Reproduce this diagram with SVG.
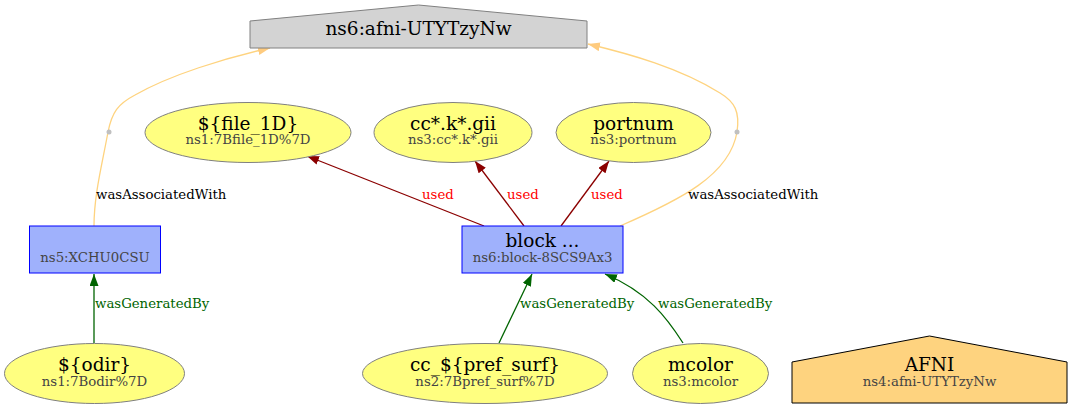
<svg xmlns="http://www.w3.org/2000/svg" width="1072" height="416" viewBox="0 0 1072 416">
<style>
text{font-family:"DejaVu Serif","Liberation Serif",serif;text-anchor:middle}
.t{font-size:18.5px;fill:#000}
.s{font-size:13.3px;fill:#444}
.ent{fill:#ffff80;stroke:#808080;stroke-width:1}
.act{fill:#9fb1fc;stroke:#0000ff;stroke-width:1}
.lbl{font-size:13.3px;text-anchor:start}
.used{stroke:#8b0000;fill:none;stroke-width:1.3}
.gen{stroke:#006400;fill:none;stroke-width:1.3}
.assoc{stroke:#fed37f;fill:none;stroke-width:1.3}
</style>
<defs>
<marker id="mu" viewBox="0 0 12 9" refX="12" refY="4.5" markerWidth="12" markerHeight="9" markerUnits="userSpaceOnUse" orient="auto"><path d="M0,0L12,4.5L0,9z" fill="#8b0000"/></marker>
<marker id="mg" viewBox="0 0 12 9" refX="12" refY="4.5" markerWidth="12" markerHeight="9" markerUnits="userSpaceOnUse" orient="auto"><path d="M0,0L12,4.5L0,9z" fill="#006400"/></marker>
<marker id="ma" viewBox="0 0 12 9" refX="12" refY="4.5" markerWidth="12" markerHeight="9" markerUnits="userSpaceOnUse" orient="auto"><path d="M0,0L12,4.5L0,9z" fill="#fecb7f"/></marker>
</defs>
<rect width="1072" height="416" fill="#fff"/>
<g id="connectors">
<path class="assoc" d="M94,226 C94,195 102,165 108,132 C112,112 118,104 135,95 C170,75 225,58 270,48" marker-end="url(#ma)"/>
<text class="lbl" x="96" y="199" fill="#000">wasAssociatedWith</text>
<path class="assoc" d="M620,226 C680,200 730,175 737,132 C740,112 735,102 720,93 C680,68 630,54 588,44" marker-end="url(#ma)"/>
<text class="lbl" x="688" y="199" fill="#000">wasAssociatedWith</text>
<path class="used" d="M484,226 L307,156" marker-end="url(#mu)"/>
<text class="lbl" x="422" y="199" fill="#ff0000">used</text>
<path class="used" d="M524,226 L475,161" marker-end="url(#mu)"/>
<text class="lbl" x="507" y="199" fill="#ff0000">used</text>
<path class="used" d="M561,226 L609,161" marker-end="url(#mu)"/>
<text class="lbl" x="591" y="199" fill="#ff0000">used</text>
<path class="gen" d="M94,343 L94,274" marker-end="url(#mg)"/>
<text class="lbl" x="95" y="308" fill="#006400">wasGeneratedBy</text>
<path class="gen" d="M499,343 L532,274" marker-end="url(#mg)"/>
<text class="lbl" x="520" y="308" fill="#006400">wasGeneratedBy</text>
<path class="gen" d="M683,343 C667,318 648,292 605,274" marker-end="url(#mg)"/>
<text class="lbl" x="658" y="308" fill="#006400">wasGeneratedBy</text>
</g>
<g id="n_afni_top">
<polygon points="250,48 250,21 418.5,5 587,21 587,48" fill="#d3d3d3" stroke="#808080"/>
<text class="t" x="418.5" y="35">ns6:afni-UTYTzyNw</text>
</g>
<g id="n_dot1"><circle cx="109" cy="132" r="2.5" fill="#c0c0c0"/></g>
<g id="n_dot2"><circle cx="737" cy="132" r="2.5" fill="#c0c0c0"/></g>
<g id="n_file1d">
<ellipse class="ent" cx="248" cy="132.5" rx="103" ry="30"/>
<text class="t" x="248" y="130">${file_1D}</text>
<text class="s" x="248" y="144">ns1:7Bfile_1D%7D</text>
</g>
<g id="n_ccgii">
<ellipse class="ent" cx="453" cy="132.5" rx="79" ry="30"/>
<text class="t" x="453" y="130">cc*.k*.gii</text>
<text class="s" x="453" y="144">ns3:cc*.k*.gii</text>
</g>
<g id="n_portnum">
<ellipse class="ent" cx="633.5" cy="132.5" rx="77.5" ry="30"/>
<text class="t" x="633.5" y="130">portnum</text>
<text class="s" x="633.5" y="144">ns3:portnum</text>
</g>
<g id="n_xchu">
<rect class="act" x="29.5" y="226" width="131" height="47"/>
<text class="s" x="95" y="262">ns5:XCHU0CSU</text>
</g>
<g id="n_block">
<rect class="act" x="462" y="226" width="161" height="47"/>
<text class="t" x="542.5" y="247">block ...</text>
<text class="s" x="542.5" y="262">ns6:block-8SCS9Ax3</text>
</g>
<g id="n_odir">
<ellipse class="ent" cx="94.5" cy="373.5" rx="90" ry="30"/>
<text class="t" x="94.5" y="371">${odir}</text>
<text class="s" x="94.5" y="385.5">ns1:7Bodir%7D</text>
</g>
<g id="n_prefsurf">
<ellipse class="ent" cx="485" cy="373.5" rx="122.5" ry="30"/>
<text class="t" x="485" y="371">cc_${pref_surf}</text>
<text class="s" x="485" y="385.5">ns2:7Bpref_surf%7D</text>
</g>
<g id="n_mcolor">
<ellipse class="ent" cx="700.5" cy="373.5" rx="68" ry="30"/>
<text class="t" x="700.5" y="371">mcolor</text>
<text class="s" x="700.5" y="385.5">ns3:mcolor</text>
</g>
<g id="n_afni">
<polygon points="792,403 792,362 929.5,336 1067,362 1067,403" fill="#fed37f" stroke="#000"/>
<text class="t" x="929.5" y="371">AFNI</text>
<text class="s" x="929.5" y="385.5">ns4:afni-UTYTzyNw</text>
</g>
</svg>
